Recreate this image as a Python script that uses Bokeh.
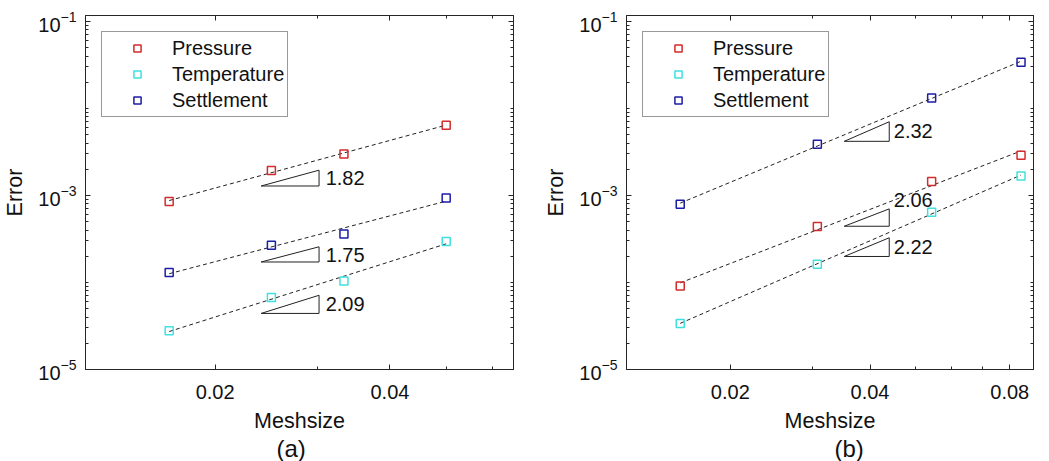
import numpy as np
from bokeh.plotting import figure
from bokeh.layouts import row
from bokeh.models import (FixedTicker, LogAxis, Legend, LegendItem, Title,
                          PrintfTickFormatter, CustomJSTickFormatter)
from bokeh.embed import file_html
from bokeh.resources import INLINE
from bokeh.core.properties import value

# ---------------- data ----------------
series = ["Pressure", "Temperature", "Settlement"]
colors = ["#d42b2b", "#40e0e0", "#1c1ca6"]

# panel (a)
mesh_a = [1 / 60, 1 / 40, 1 / 30, 1 / 20]
pressure_a = [8.5e-4, 1.94e-3, 3.0e-3, 6.4e-3]
temperature_a = [2.78e-5, 6.73e-5, 1.04e-4, 2.96e-4]
settlement_a = [1.30e-4, 2.68e-4, 3.61e-4, 9.36e-4]
rates_a = ["1.82", "2.09", "1.75"]          # pressure, temperature, settlement

# panel (b)
mesh_b = [0.0156, 0.0308, 0.0543, 0.0846]
pressure_b = [9.14e-5, 4.40e-4, 1.445e-3, 2.90e-3]
temperature_b = [3.38e-5, 1.62e-4, 6.41e-4, 1.67e-3]
settlement_b = [7.92e-4, 3.87e-3, 1.32e-2, 3.39e-2]
rates_b = ["2.06", "2.22", "2.32"]

# ticks
x_ticks_a = [0.02, 0.04]
x_ticks_b = [0.02, 0.04, 0.08]
x_minor = [0.01, 0.02, 0.03, 0.04, 0.05, 0.06, 0.07, 0.08, 0.09, 0.1]
y_ticks = [1e-5, 1e-3, 1e-1]
y_minor = [m * 10.0 ** e for e in range(-6, 0) for m in range(1, 10)]

# slope-triangle annotations (series order: pressure, temperature, settlement)
tri_x_a = [0.0240, 0.0302]
tri_bottom_a = [1.285e-3, 4.41e-5, 1.72e-4]
label_x_a = 0.0310
label_y_a = [1.576e-3, 5.64e-5, 2.06e-4]

tri_x_b = [0.0352, 0.0440]
tri_bottom_b = [4.43e-4, 1.99e-4, 4.19e-3]
label_x_b = 0.0450
label_y_b = [8.97e-4, 2.56e-4, 5.46e-3]

FONT = "Liberation Sans"
AX_COLOR = "#262626"
TXT_COLOR = "#111111"


def style_axis(ax, ticks, minor, labels=True, fmt=None):
    ax.ticker = FixedTicker(ticks=ticks, minor_ticks=minor)
    ax.major_tick_in = 5
    ax.major_tick_out = 0
    ax.minor_tick_in = 3
    ax.minor_tick_out = 0
    ax.axis_line_color = AX_COLOR
    ax.major_tick_line_color = AX_COLOR
    ax.minor_tick_line_color = AX_COLOR
    ax.major_label_text_font = FONT
    ax.major_label_text_font_size = "20px"
    ax.major_label_text_color = TXT_COLOR
    ax.axis_label_text_font = FONT
    ax.axis_label_text_font_size = "21.5px"
    ax.axis_label_text_font_style = "normal"
    ax.axis_label_text_color = TXT_COLOR
    if fmt is not None:
        ax.formatter = fmt
    if not labels:
        ax.formatter = CustomJSTickFormatter(code="return ''")
        ax.major_label_standoff = 0


def panel(xs, ys_list, rates, tri_x, tri_bottom, lab_x, lab_y, x_range, x_ticks,
          width, border_right, tag, tag_offset):
    p = figure(width=width, height=461, x_axis_type="log", y_axis_type="log",
               x_range=x_range, y_range=(1e-5, 0.117),
               output_backend="svg", toolbar_location=None,
               min_border_left=81, min_border_right=border_right,
               min_border_top=15, min_border_bottom=92)
    p.grid.visible = False
    p.outline_line_color = AX_COLOR
    p.outline_line_width = 1
    p.background_fill_color = "white"
    p.border_fill_color = "white"

    style_axis(p.xaxis[0], x_ticks, x_minor, fmt=PrintfTickFormatter(format="%.2f"))
    p.xaxis[0].axis_label = "Meshsize"
    p.xaxis[0].major_label_standoff = 15
    p.xaxis[0].axis_label_standoff = 7
    style_axis(p.yaxis[0], y_ticks, y_minor)
    p.yaxis[0].axis_label = "Error"
    p.yaxis[0].major_label_standoff = 9
    p.yaxis[0].axis_label_standoff = 8

    top = LogAxis()
    style_axis(top, x_ticks, x_minor, labels=False)
    p.add_layout(top, "above")
    right = LogAxis()
    style_axis(right, y_ticks, y_minor, labels=False)
    p.add_layout(right, "right")

    items = []
    lx = np.log10(xs)
    for name, col, ys in zip(series, colors, ys_list):
        k, b = np.polyfit(lx, np.log10(ys), 1)
        xe = [xs[0], xs[-1]]
        ye = [10 ** (k * np.log10(v) + b) for v in xe]
        p.line(xe, ye, line_color="#222222", line_width=1, line_dash="4 3")
    for name, col, ys in zip(series, colors, ys_list):
        r = p.scatter(xs, ys, marker="square", size=8, fill_color=None,
                      line_color=col, line_width=1.5)
        items.append(LegendItem(label=name, renderers=[r]))

    for rate, yb, ly in zip(rates, tri_bottom, lab_y):
        s = float(rate)
        yt = yb * (tri_x[1] / tri_x[0]) ** s
        p.patch([tri_x[0], tri_x[1], tri_x[1]], [yb, yt, yb], fill_color=None,
                line_color="#222222", line_width=1)
        p.text([lab_x], [ly], text=[rate], text_font=value(FONT),
               text_font_size="20px", text_baseline="middle", text_align="left",
               text_color=TXT_COLOR)

    leg = Legend(items=items, location="top_left", margin=16, padding=3, spacing=0,
                 label_height=26, glyph_height=18, glyph_width=64, label_standoff=3,
                 border_line_color="#333333", border_line_width=1,
                 label_text_font=FONT, label_text_font_size="20px",
                 label_text_color=TXT_COLOR, background_fill_alpha=1)
    p.add_layout(leg)

    p.add_layout(Title(text=tag, align="left", offset=tag_offset, standoff=-3,
                       vertical_align="middle",
                       text_font=FONT, text_font_size="24px", text_font_style="normal",
                       text_color=TXT_COLOR), "below")
    return p


pa = panel(mesh_a, [pressure_a, temperature_a, settlement_a], rates_a,
           tri_x_a, tri_bottom_a, label_x_a, label_y_a, (0.01196, 0.0653), x_ticks_a,
           541, 28, "(a)", 191)
pb = panel(mesh_b, [pressure_b, temperature_b, settlement_b], rates_b,
           tri_x_b, tri_bottom_b, label_x_b, label_y_b, (0.01195, 0.0900), x_ticks_b,
           508, 16, "(b)", 208)

layout = row(pa, pb, spacing=0)
open("out.html", "w").write(file_html(layout, INLINE))
